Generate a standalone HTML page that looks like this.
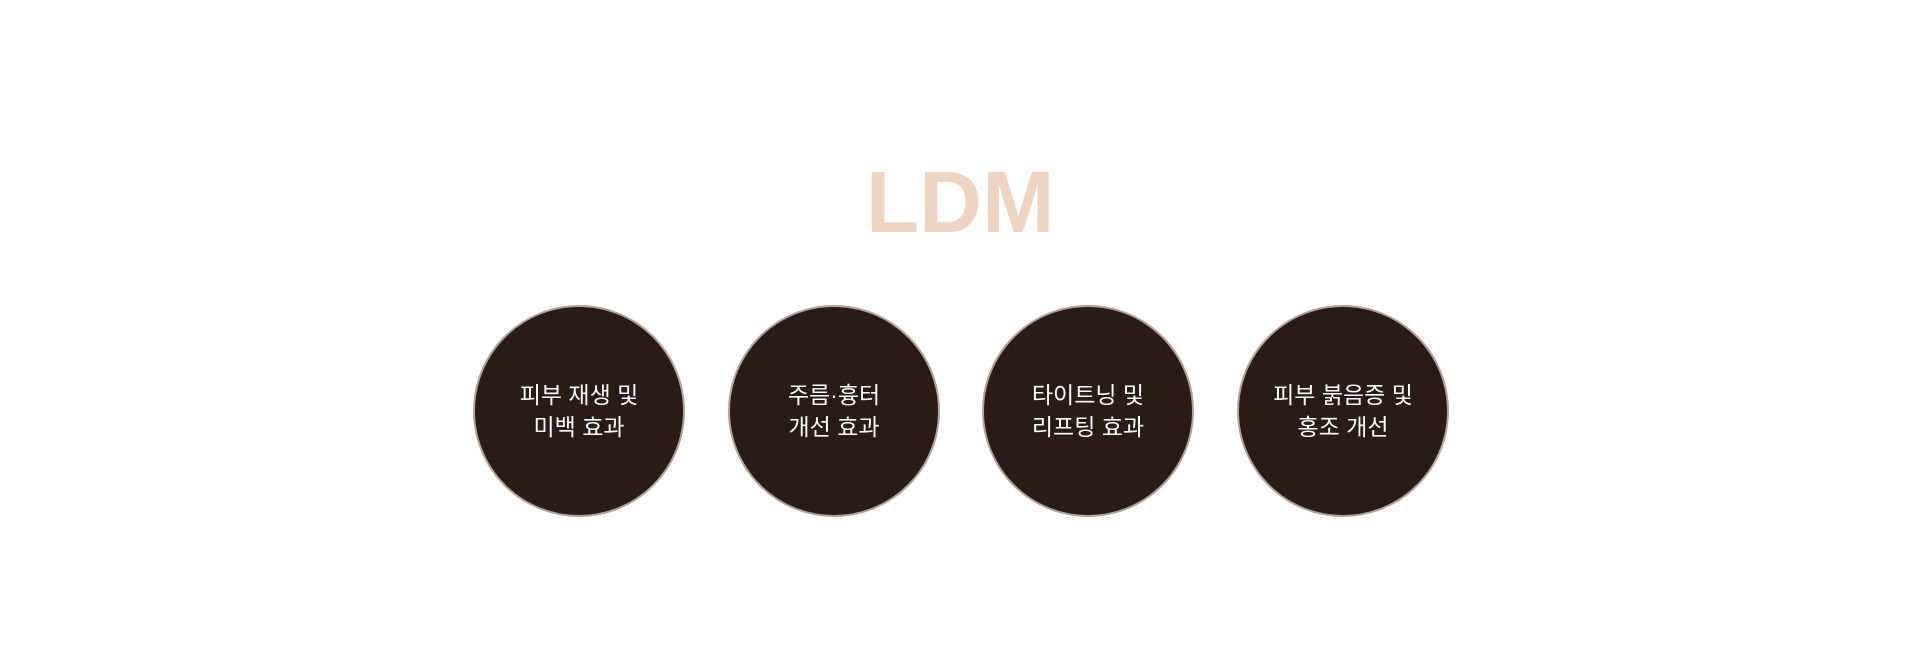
<!DOCTYPE html>
<html><head><meta charset="utf-8"><style>
body{margin:0;width:1920px;height:651px;background:#fff;position:relative;overflow:hidden;font-family:"Liberation Sans","Noto Sans CJK KR",sans-serif}
.t{position:absolute;left:866px;top:159px;font-size:87px;font-weight:bold;color:#efd4c2;line-height:88px}
.c{position:absolute;top:305px;width:208px;height:208px;border-radius:50%;background:#2a1b17;border:2px solid #b0a49a;box-sizing:content-box;color:#fff;font-size:23px;line-height:32px;display:flex;align-items:center;justify-content:center;text-align:center;padding-top:0}
.c span{position:relative;top:0px}
</style></head><body>
<div class="t">LDM</div>
<div class="c" style="left:473px"><span>피부 재생 및<br>미백 효과</span></div>
<div class="c" style="left:728px"><span>주름·흉터<br>개선 효과</span></div>
<div class="c" style="left:982px"><span>타이트닝 및<br>리프팅 효과</span></div>
<div class="c" style="left:1237px"><span>피부 붉음증 및<br>홍조 개선</span></div>
</body></html>
